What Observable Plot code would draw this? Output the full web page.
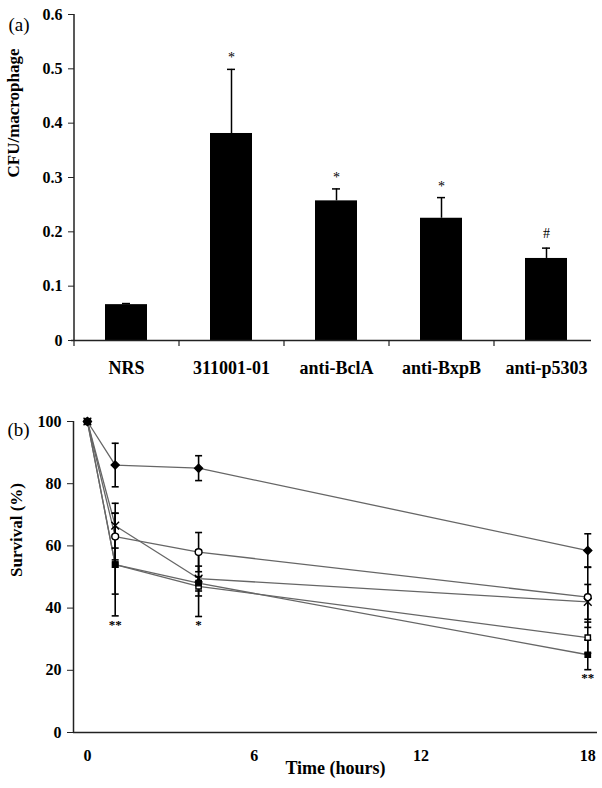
<!DOCTYPE html>
<html><head><meta charset="utf-8">
<script src="https://cdn.jsdelivr.net/npm/d3@7"></script>
<script src="https://cdn.jsdelivr.net/npm/@observablehq/plot@0.6"></script>
<style>
body{margin:0;background:#fff;}
#chart{width:602px;}
#chart svg{display:block;}
</style></head><body><div id="chart"></div>
<script>
// ---------- Panel (a) data ----------
const categories = ["NRS", "311001-01", "anti-BclA", "anti-BxpB", "anti-p5303"];
const meansA = [0.066, 0.381, 0.257, 0.225, 0.151];
const errorsA = [0.002, 0.118, 0.022, 0.038, 0.019];
const sigMarksA = ["", "*", "*", "*", "#"];
const sigYA = [0, 0.52, 0.30, 0.283, 0.196];
const yTicksA = [0, 0.1, 0.2, 0.3, 0.4, 0.5, 0.6];
const yTickLabelsA = ["0", "0.1", "0.2", "0.3", "0.4", "0.5", "0.6"];

// ---------- Panel (b) data ----------
const timesB = [0, 1, 4, 18];
const seriesB = ["diamond", "circle", "cross", "open square", "filled square"];
const survDiamond = [100, 86, 85, 58.5];
const survCircle = [100, 63, 58, 43.5];
const survCross = [100, 66.5, 49.5, 42];
const survOpenSquare = [100, 54, 47, 30.5];
const survFilledSquare = [100, 54, 48, 25];
const errDiamond = [0, 7, 4, 5.4];
const errCircle = [0, 7.5, 6.3, 9.7];
const errCross = [0, 7.2, 4, 5.6];
const errOpenSquare = [0, 9.5, 3.1, 5];
const errFilledSquare = [0, 16.5, 10.7, 4.8];
const sigTimesB = [1, 4, 18];
const sigMarksB = ["**", "*", "**"];
const sigYB = [34.5, 34.5, 17.5];
const xTicksB = [0, 6, 12, 18];
const yTicksB = [0, 20, 40, 60, 80, 100];

const font = "'Liberation Serif', 'Times New Roman', serif";

// ---------- Panel (a) ----------
const dataA = categories.map((c, i) => ({
  cat: c, mean: meansA[i], hi: meansA[i] + errorsA[i], mark: sigMarksA[i], markY: sigYA[i]
}));
const halfStep = 52.5;

const chartA = Plot.plot({
  width: 602, height: 390,
  marginTop: 14, marginBottom: 50, marginLeft: 74, marginRight: 3,
  style: {fontFamily: font, background: "white", color: "black", overflow: "visible"},
  x: {domain: categories, paddingInner: 0.6, paddingOuter: 0.3, axis: null},
  y: {domain: [0, 0.6], axis: null},
  marks: [
    Plot.barY(dataA, {x: "cat", y: "mean", fill: "black"}),
    Plot.ruleX(dataA, {x: "cat", y1: "mean", y2: "hi", stroke: "black", strokeWidth: 1.5}),
    Plot.tickY(dataA, {x: "cat", y: "hi", inset: 17, stroke: "black", strokeWidth: 1.5}),
    Plot.text(dataA.filter(d => d.mark), {x: "cat", y: "markY", text: "mark", fontSize: 14, fill: "black"}),
    Plot.ruleY([0], {stroke: "#222", strokeWidth: 1.5, insetLeft: -3, insetRight: 8}),
    Plot.ruleX([categories[0]], {x: d => d, y1: 0, y2: 0.6, dx: -halfStep, stroke: "#222", strokeWidth: 1.5}),
    Plot.ruleX(categories, {x: d => d, y1: 0, y2: -0.011, dx: -halfStep, stroke: "#222", strokeWidth: 1.2}),
    Plot.axisY({ticks: yTicksA, tickFormat: d => yTickLabelsA[yTicksA.indexOf(d)], tickSize: 6, tickPadding: 6,
      fontSize: 16, fontWeight: "bold", label: null, stroke: "#222"}),
    Plot.axisX({tickSize: 0, tickPadding: 21, fontSize: 18, fontWeight: "bold", label: null}),
    Plot.text(["CFU/macrophage"], {frameAnchor: "left", dx: -61, rotate: -90, text: d => d,
      fontSize: 17, fontWeight: "bold", fill: "black"}),
    Plot.text(["(a)"], {frameAnchor: "top-left", dx: -66, dy: 3, textAnchor: "start", text: d => d,
      fontSize: 19, fill: "black"})
  ]
});

// ---------- Panel (b) ----------
const survAll = [survDiamond, survCircle, survCross, survOpenSquare, survFilledSquare];
const errAll = [errDiamond, errCircle, errCross, errOpenSquare, errFilledSquare];
const dataB = [];
seriesB.forEach((s, si) => timesB.forEach((t, ti) => {
  dataB.push({series: s, t, v: survAll[si][ti], lo: survAll[si][ti] - errAll[si][ti], hi: survAll[si][ti] + errAll[si][ti], err: errAll[si][ti]});
}));
const errB = dataB.filter(d => d.err > 0);
const capsB = errB.flatMap(d => [{t: d.t, y: d.lo}, {t: d.t, y: d.hi}]);
const sigB = sigTimesB.map((t, i) => ({t, y: sigYB[i], text: sigMarksB[i]}));

const capSymbol = {
  draw(context, size) {
    const r = Math.sqrt(size / Math.PI);
    context.moveTo(-r, 0);
    context.lineTo(r, 0);
  }
};
const markerStyles = {
  "diamond": {symbol: "diamond2", fill: "black", stroke: "black", r: 3.6},
  "circle": {symbol: "circle", fill: "white", stroke: "black", r: 3.4},
  "cross": {symbol: "times", fill: "none", stroke: "black", r: 3.6},
  "open square": {symbol: "square2", fill: "white", stroke: "black", r: 3.4},
  "filled square": {symbol: "square2", fill: "black", stroke: "black", r: 3.4}
};

const chartB = Plot.plot({
  width: 602, height: 398,
  marginTop: 31, marginBottom: 56, marginLeft: 73, marginRight: 5,
  style: {fontFamily: font, background: "white", color: "black", overflow: "visible"},
  x: {domain: [-0.5, 18.35], axis: null},
  y: {domain: [0, 100], axis: null},
  marks: [
    Plot.line(dataB, {x: "t", y: "v", z: "series", stroke: "#666", strokeWidth: 1.3}),
    Plot.ruleX(errB, {x: "t", y1: "lo", y2: "hi", stroke: "black", strokeWidth: 1.6}),
    Plot.dot(capsB, {x: "t", y: "y", symbol: capSymbol, r: 3.5, stroke: "black", strokeWidth: 1.6}),
    ...seriesB.map(s => Plot.dot(dataB.filter(d => d.series === s), {
      x: "t", y: "v", symbol: markerStyles[s].symbol, r: markerStyles[s].r,
      fill: markerStyles[s].fill, stroke: markerStyles[s].stroke, strokeWidth: 1.4
    })),
    Plot.text(sigB, {x: "t", y: "y", text: "text", fontSize: 13, fontWeight: "bold", fill: "black"}),
    Plot.ruleY([0], {stroke: "#222", strokeWidth: 1.5}),
    Plot.ruleX([-0.5], {y1: 0, y2: 100, stroke: "#222", strokeWidth: 1.5}),
    Plot.axisY({ticks: yTicksB, tickSize: 6, tickPadding: 6, fontSize: 16, fontWeight: "bold", label: null, stroke: "#222"}),
    Plot.axisX({ticks: xTicksB, tickSize: 0, tickPadding: 17, fontSize: 16, fontWeight: "bold", label: null}),
    Plot.text(["Survival (%)"], {frameAnchor: "left", dx: -57, rotate: -90, text: d => d,
      fontSize: 17, fontWeight: "bold", fill: "black"}),
    Plot.text(["Time (hours)"], {frameAnchor: "bottom", dy: 41, text: d => d,
      fontSize: 18, fontWeight: "bold", fill: "black"}),
    Plot.text(["(b)"], {frameAnchor: "top-left", dx: -66, dy: 1, textAnchor: "start", text: d => d,
      fontSize: 19, fill: "black"})
  ]
});

const root = document.getElementById("chart");
root.appendChild(chartA);
root.appendChild(chartB);
</script>
</body></html>
